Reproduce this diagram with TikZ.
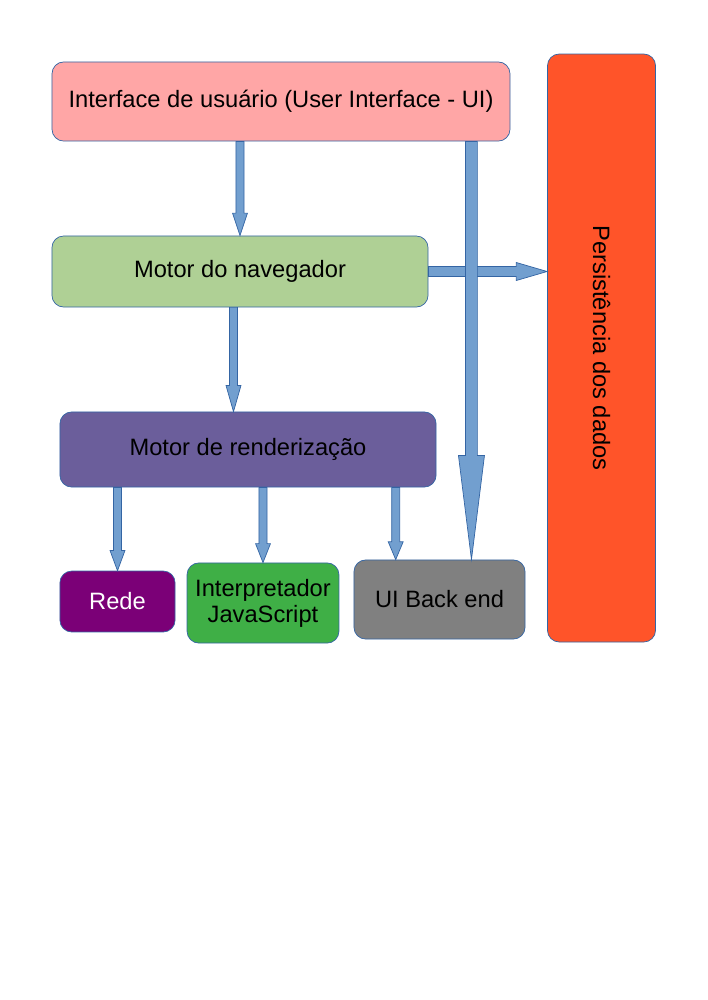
\documentclass[tikz,border=0pt]{standalone}
\usepackage{fontspec}
\setmainfont{Liberation Sans}
\usetikzlibrary{calc}
\definecolor{uipink}{HTML}{FFA6A6}
\definecolor{navgreen}{HTML}{AFD095}
\definecolor{renderviolet}{HTML}{6B5E9B}
\definecolor{redepurple}{HTML}{7B0077}
\definecolor{jsgreen}{HTML}{3FAF46}
\definecolor{backgray}{HTML}{808080}
\definecolor{persistred}{HTML}{FF5429}
\definecolor{flowfill}{HTML}{729FCF}
\definecolor{flowedge}{HTML}{3465A4}
% block arrow: start, end, shaft half width, head half width, head length
\newcommand{\flowarrow}[5]{%
	\coordinate (fh) at ($(#2)!#5!(#1)$);
	\draw[flow] ($(#1)!#3!90:(#2)$) -- ($(fh)!#3!90:(#2)$) -- ($(fh)!#4!90:(#2)$) -- (#2)
		-- ($(fh)!#4!-90:(#2)$) -- ($(fh)!#3!-90:(#2)$) -- ($(#1)!#3!-90:(#2)$) -- cycle;}
\begin{document}
\begin{tikzpicture}[x=0.0297cm, y=-0.0297cm,
	box/.style={draw=flowedge, line width=0.6pt, rounded corners=3.5mm, inner sep=0pt,
		align=center, font=\fontsize{20}{22}\selectfont},
	flow/.style={fill=flowfill, draw=flowedge, line width=0.6pt, line join=miter}]
	\useasboundingbox (0,0) rectangle (707,1000);
	\node[box, fill=uipink, minimum width=13.6cm, minimum height=2.35cm] (ui) at (281,101.5) {Interface de usuário (User Interface - UI)};
	\node[box, fill=navgreen, minimum width=11.17cm, minimum height=2.11cm] (nav) at (240,271.5) {Motor do navegador};
	\node[box, fill=renderviolet, minimum width=11.17cm, minimum height=2.23cm] (render) at (248,449.5) {Motor de renderização};
	\node[box, fill=redepurple, text=white, minimum width=3.42cm, minimum height=1.81cm] (rede) at (117.5,601.5) {Rede};
	\node[box, fill=jsgreen, minimum width=4.51cm, minimum height=2.38cm] (js) at (263,603) {Interpretador\\JavaScript};
	\node[box, fill=backgray, minimum width=5.08cm, minimum height=2.35cm] (backend) at (439.5,599.5) {UI Back end};
	\node[box, fill=persistred, minimum width=3.21cm, minimum height=17.46cm] (persist) at (601.5,348) {\rotatebox{-90}{Persistência dos dados}};
	% arrows
	\coordinate (a1) at (ui.south -| nav.north);
	\flowarrow{a1}{nav.north}{3.4pt}{6.3pt}{19pt}
	\coordinate (a2) at ([xshift=-5.5pt]nav.south);
	\coordinate (b2) at (render.north -| a2);
	\flowarrow{a2}{b2}{3.4pt}{6.3pt}{22pt}
	\coordinate (a3) at (render.south -| rede.north);
	\flowarrow{a3}{rede.north}{3.4pt}{6.3pt}{17pt}
	\coordinate (a4) at (render.south -| js.north);
	\flowarrow{a4}{js.north}{3.4pt}{6.3pt}{16pt}
	\coordinate (b5) at ([xshift=-37pt]backend.north);
	\coordinate (a5) at (render.south -| b5);
	\flowarrow{a5}{b5}{3.4pt}{6.3pt}{15pt}
	\coordinate (b6) at (persist.west |- nav.east);
	\flowarrow{nav.east}{b6}{4.2pt}{7.6pt}{26pt}
	\coordinate (b7) at ([xshift=27pt]backend.north);
	\coordinate (a7) at (ui.south -| b7);
	\flowarrow{a7}{b7}{5pt}{11pt}{88pt}
\end{tikzpicture}
\end{document}
